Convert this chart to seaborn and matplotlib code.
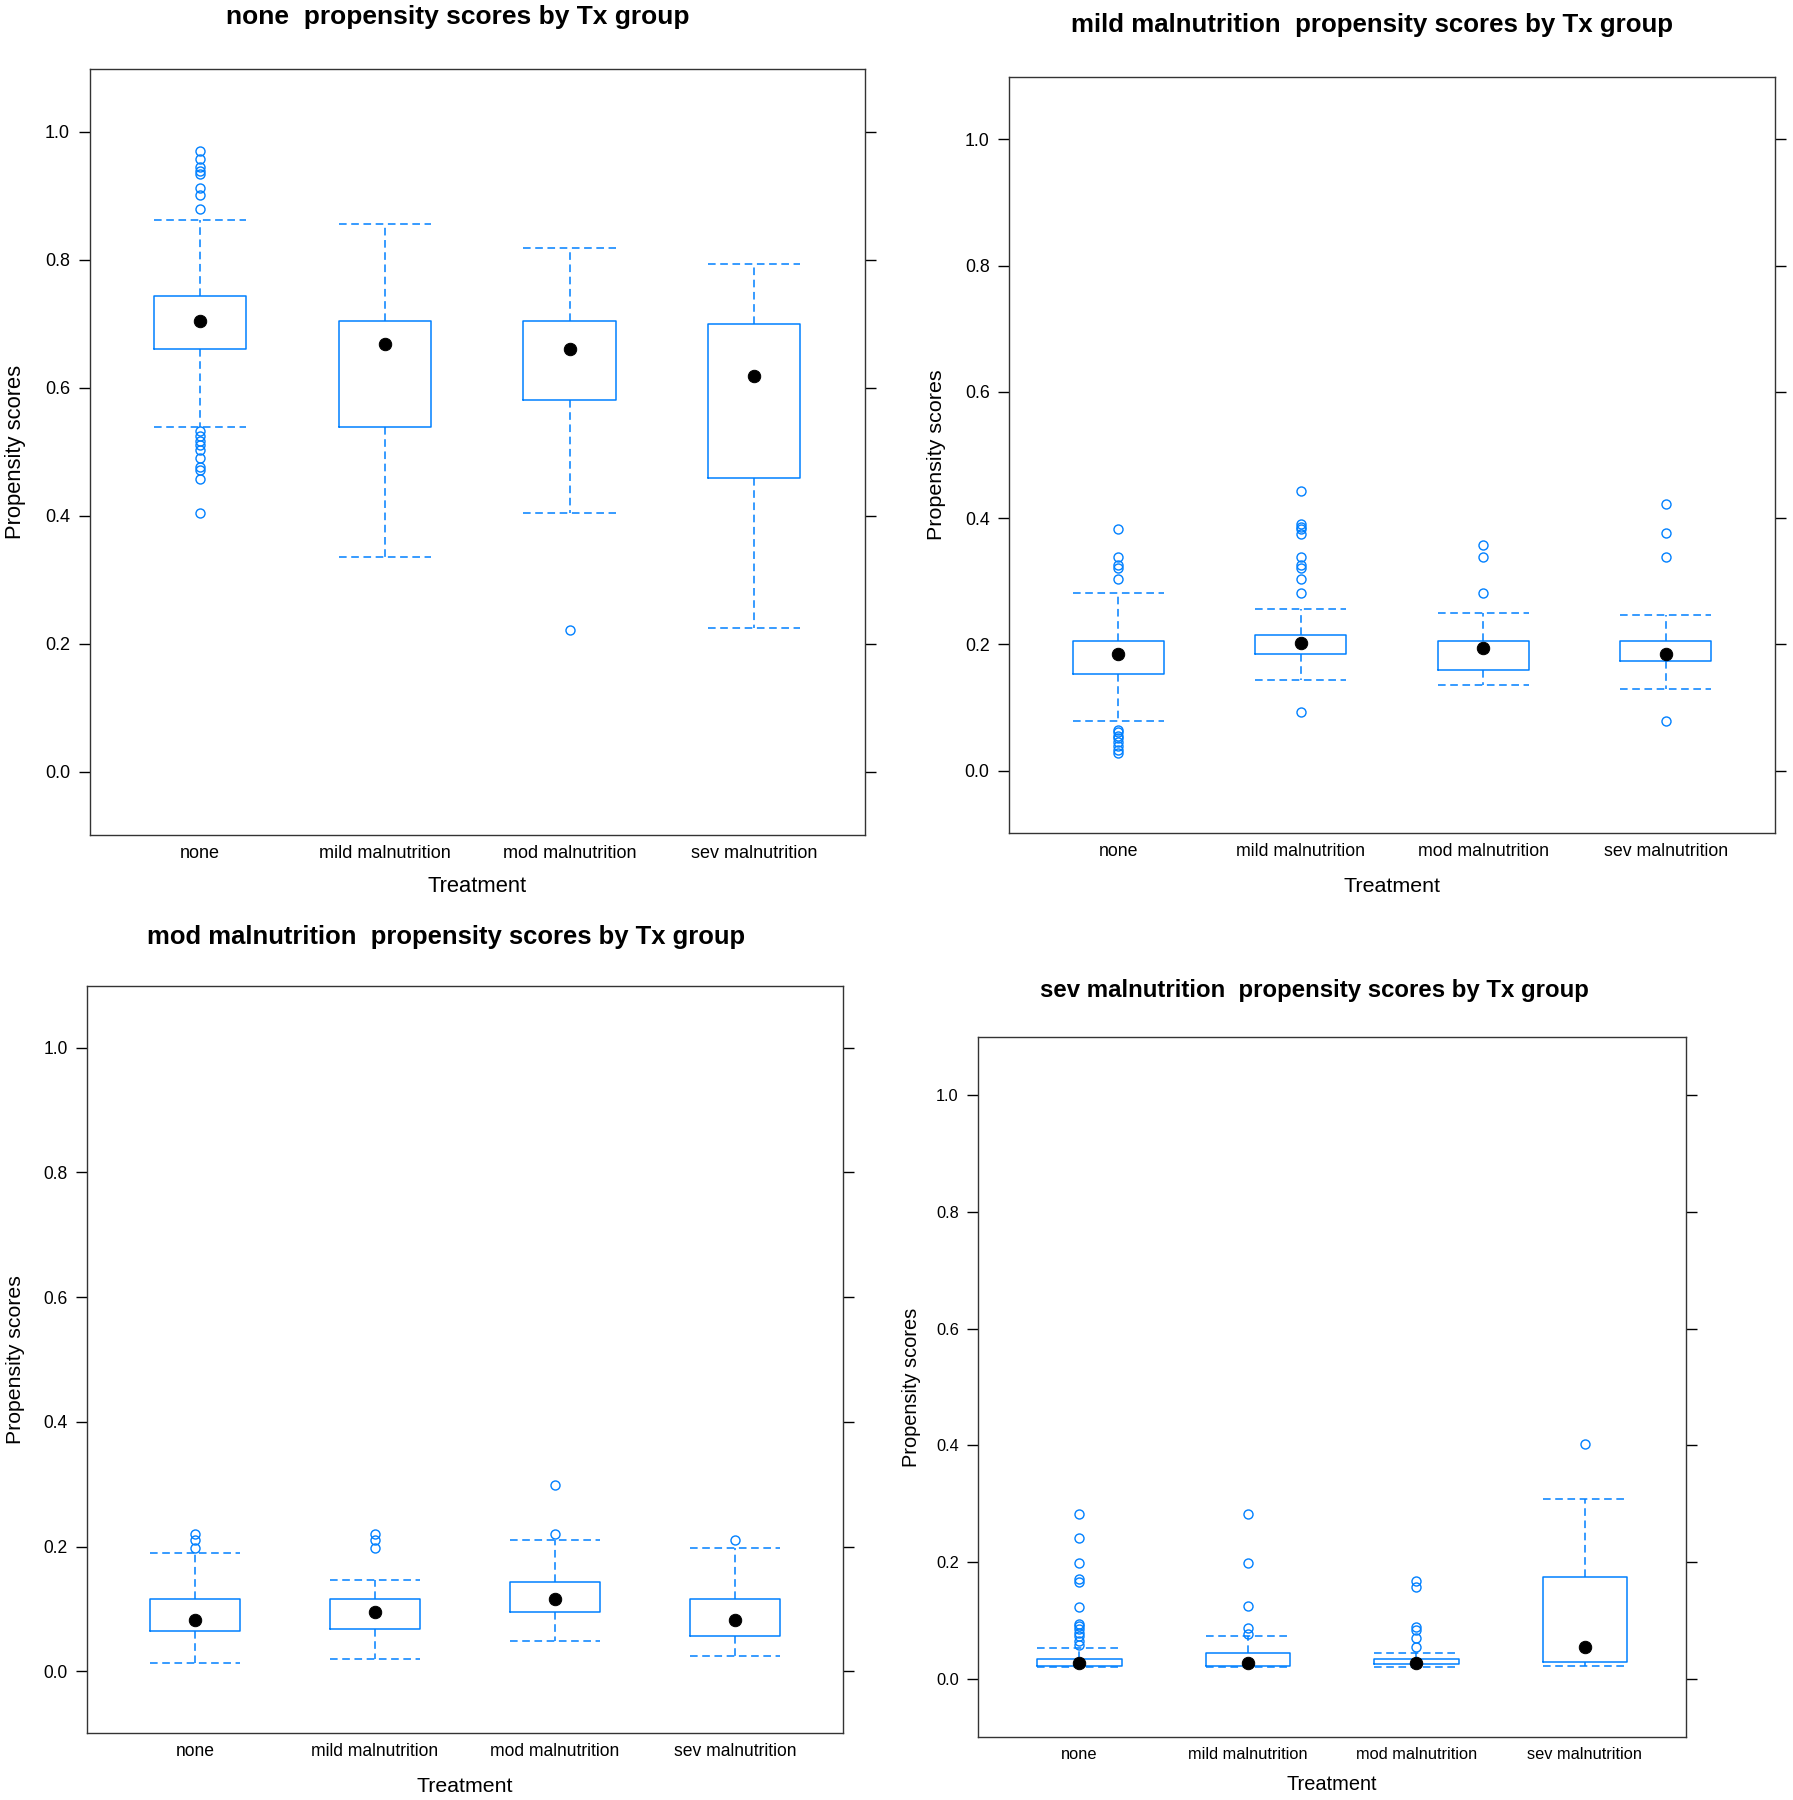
import matplotlib
matplotlib.use("Agg")
import matplotlib.pyplot as plt
import seaborn as sns
import numpy as np

# ── Data ───────────────────────────────────────────────────────────
groups = ["none", "mild malnutrition", "mod malnutrition", "sev malnutrition"]

# panel 1: "none" propensity scores
p1_q1 = [0.660, 0.538, 0.581, 0.459]
p1_med = [0.704, 0.669, 0.660, 0.619]
p1_q3 = [0.743, 0.704, 0.704, 0.699]
p1_lo = [0.538, 0.335, 0.405, 0.225]
p1_hi = [0.862, 0.856, 0.819, 0.794]
p1_out = [[0.970, 0.957, 0.945, 0.939, 0.934, 0.912, 0.902, 0.880,
           0.532, 0.524, 0.517, 0.510, 0.503, 0.490, 0.476, 0.471, 0.458, 0.405],
          [], [0.221], []]

# panel 2: "mild malnutrition" propensity scores
p2_q1 = [0.153, 0.184, 0.160, 0.173]
p2_med = [0.184, 0.202, 0.194, 0.184]
p2_q3 = [0.206, 0.215, 0.206, 0.206]
p2_lo = [0.079, 0.144, 0.135, 0.129]
p2_hi = [0.282, 0.256, 0.249, 0.247]
p2_out = [[0.383, 0.338, 0.326, 0.321, 0.304,
           0.065, 0.061, 0.055, 0.051, 0.045, 0.039, 0.033, 0.028],
          [0.443, 0.391, 0.386, 0.382, 0.375, 0.338, 0.326, 0.321, 0.304, 0.282, 0.092],
          [0.357, 0.338, 0.282],
          [0.422, 0.376, 0.338, 0.079]]

# panel 3: "mod malnutrition" propensity scores
p3_q1 = [0.065, 0.068, 0.095, 0.056]
p3_med = [0.082, 0.095, 0.116, 0.082]
p3_q3 = [0.116, 0.116, 0.143, 0.116]
p3_lo = [0.014, 0.020, 0.049, 0.025]
p3_hi = [0.190, 0.147, 0.211, 0.198]
p3_out = [[0.220, 0.211, 0.198], [0.220, 0.211, 0.198], [0.299, 0.220], [0.211]]

# panel 4: "sev malnutrition" propensity scores
p4_q1 = [0.022, 0.022, 0.026, 0.029]
p4_med = [0.027, 0.027, 0.028, 0.055]
p4_q3 = [0.035, 0.044, 0.035, 0.175]
p4_lo = [0.021, 0.021, 0.021, 0.022]
p4_hi = [0.054, 0.073, 0.045, 0.308]
p4_out = [[0.282, 0.241, 0.198, 0.172, 0.166, 0.124, 0.095, 0.091, 0.085,
           0.079, 0.073, 0.066, 0.058],
          [0.282, 0.198, 0.126, 0.087, 0.078],
          [0.168, 0.157, 0.089, 0.084, 0.070, 0.055],
          [0.402]]

y_ticks = [0.0, 0.2, 0.4, 0.6, 0.8, 1.0]

# ── Style ──────────────────────────────────────────────────────────
sns.set_style("white")
plt.rcParams.update({
    "font.family": ["Liberation Sans", "DejaVu Sans"],
    "text.color": "black",
    "xtick.color": "black",
    "ytick.color": "black",
    "axes.labelcolor": "black",
})

BLUE = "#0080ff"
W, H = 1793, 1800

panels = [
    ("none", (p1_q1, p1_med, p1_q3, p1_lo, p1_hi, p1_out)),
    ("mild malnutrition", (p2_q1, p2_med, p2_q3, p2_lo, p2_hi, p2_out)),
    ("mod malnutrition", (p3_q1, p3_med, p3_q3, p3_lo, p3_hi, p3_out)),
    ("sev malnutrition", (p4_q1, p4_med, p4_q3, p4_lo, p4_hi, p4_out)),
]

# pixel layout: axes box (left, top, right, bottom), title centre, ylabel x, xlabel y, font scale
layout = [
    dict(box=(89.5, 68.5, 865, 835), title=(458, 17), ylab=16, xlab=887, s=1.00),
    dict(box=(1009, 77, 1775, 833), title=(1372, 25), ylab=937, xlab=886, s=0.98),
    dict(box=(87, 986, 843, 1733), title=(446, 937), ylab=16, xlab=1786, s=0.97),
    dict(box=(978.3, 1037, 1686, 1737), title=(1314, 990), ylab=912, xlab=1785, s=0.91),
]

fig = plt.figure(figsize=(W / 100, H / 100), dpi=100)
dash = (0, (5, 3))

for (name, (q1, med, q3, lo, hi, out)), lay in zip(panels, layout):
    l, t, r, b = lay["box"]
    s = lay["s"]
    ax = fig.add_axes([l / W, 1 - b / H, (r - l) / W, (b - t) / H])

    stats = [dict(q1=a, med=m, q3=c, whislo=d, whishi=e, fliers=f)
             for a, m, c, d, e, f in zip(q1, med, q3, lo, hi, out)]
    pos = np.arange(len(groups))
    ax.bxp(stats, positions=pos, widths=0.5, capwidths=0.5, showfliers=True,
           boxprops=dict(color=BLUE, linewidth=1.1),
           whiskerprops=dict(color=BLUE, linewidth=1.1, linestyle=dash),
           capprops=dict(color=BLUE, linewidth=1.1, linestyle=dash),
           medianprops=dict(visible=False),
           flierprops=dict(marker="o", markerfacecolor="none", markeredgecolor=BLUE,
                           markersize=6.5, markeredgewidth=1.0, linestyle="none"))
    sns.scatterplot(x=pos, y=med, color="black", edgecolor="black", s=80,
                    zorder=5, legend=False, ax=ax)

    ax.set_xlim(-0.6, 3.6)
    ax.set_ylim(-0.099, 1.099)
    ax.set_xticks(pos)
    ax.set_xticklabels(groups)
    ax.set_yticks(y_ticks)
    ax.set_yticklabels([f"{v:.1f}" for v in y_ticks])
    ax.set_xlabel("")
    ax.set_ylabel("")
    ax.tick_params(axis="x", length=0, pad=7.5, labelsize=13 * s)
    ax.tick_params(axis="y", left=True, right=True, direction="out", length=8,
                   width=1.0, pad=6, labelsize=13 * s, labelright=False)
    for sp in ax.spines.values():
        sp.set_color("#333333")
        sp.set_linewidth(1.0)

    tx, ty = lay["title"]
    fig.text(tx / W, 1 - ty / H, f"{name}  propensity scores by Tx group",
             ha="center", va="center", fontsize=19 * s, fontweight="bold")
    fig.text((l + r) / 2 / W, 1 - lay["xlab"] / H, "Treatment",
             ha="center", va="center", fontsize=15.8 * s)
    fig.text(lay["ylab"] / W, 1 - (t + b) / 2 / H, "Propensity scores",
             ha="center", va="center", rotation=90, fontsize=15.8 * s)

fig.savefig("out.png", dpi=100, facecolor="white")
